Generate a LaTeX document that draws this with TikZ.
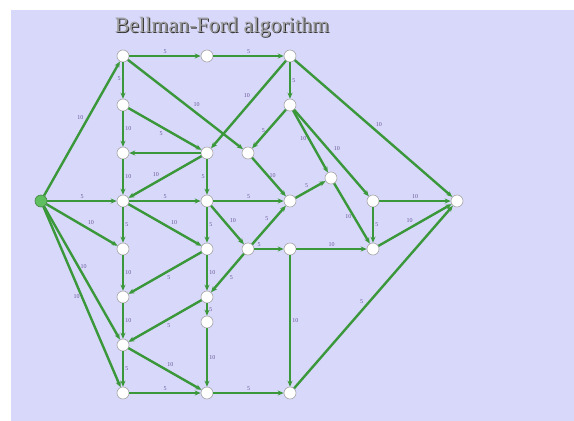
\documentclass[tikz,border=0pt]{standalone}
\usepackage{fontspec}
\setmainfont{Liberation Serif}
\usetikzlibrary{arrows.meta}
\definecolor{bgc}{RGB}{216,216,251}
\definecolor{edgc}{RGB}{58,152,58}
\definecolor{lblc}{RGB}{105,90,150}
\definecolor{srcc}{RGB}{95,190,95}
\tikzset{
  vtx/.style={circle,draw=black!35,fill=white,line width=0.6pt,minimum size=12pt,inner sep=0pt},
  src/.style={vtx,fill=srcc,draw=srcc!70!black},
  edg/.style={draw=edgc,line width=2.4pt,-{Stealth[length=6pt,width=5pt]}},
  lbl/.style={font=\fontsize{6}{7}\selectfont,text=lblc,inner sep=1.2pt},
  ttl/.style={font=\fontsize{22}{24}\selectfont}
}
\begin{document}
\begin{tikzpicture}[x=1pt,y=-1pt]
\useasboundingbox (0,0) rectangle (574,421);
\fill[white] (0,0) rectangle (574,421);
\fill[bgc] (11,10) rectangle (574,421);
% title
\node[ttl,text=black!80] (titleshadow) at (223,27.8) {Bellman-Ford algorithm};
\node[ttl,text=black!38] (title) at (222,27) {Bellman-Ford algorithm};
% vertices
\node[src] (S) at (41,201) {};
\node[vtx] (a1) at (123,56) {};
\node[vtx] (a2) at (123,105) {};
\node[vtx] (a3) at (123,153) {};
\node[vtx] (a4) at (123,201) {};
\node[vtx] (a5) at (123,249) {};
\node[vtx] (a6) at (123,297) {};
\node[vtx] (a7) at (123,345) {};
\node[vtx] (a8) at (123,393) {};
\node[vtx] (b1) at (207,56) {};
\node[vtx] (b3) at (207,153) {};
\node[vtx] (b4) at (207,201) {};
\node[vtx] (b5) at (207,249) {};
\node[vtx] (b6) at (207,297) {};
\node[vtx] (b7) at (207,322) {};
\node[vtx] (b8) at (207,393) {};
\node[vtx] (c3) at (248,153) {};
\node[vtx] (c5) at (248,249) {};
\node[vtx] (d1) at (290,56) {};
\node[vtx] (d2) at (290,105) {};
\node[vtx] (d4) at (290,201) {};
\node[vtx] (d5) at (290,249) {};
\node[vtx] (d8) at (290,393) {};
\node[vtx] (e) at (331,178) {};
\node[vtx] (f4) at (373,201) {};
\node[vtx] (f5) at (373,249) {};
\node[vtx] (T) at (457,201) {};
% edges
\draw[edg] (S) -- node[lbl,above left,pos=.55] {10} (a1);
\draw[edg] (S) -- node[lbl,above] {5} (a4);
\draw[edg] (S) -- node[lbl,above right,pos=.55] {10} (a5);
\draw[edg] (S) -- node[lbl,right,pos=.45] {10} (a7);
\draw[edg] (S) -- node[lbl,left,pos=.5] {10} (a8);
\draw[edg] (a1) -- node[lbl,above] {5} (b1);
\draw[edg] (b1) -- node[lbl,above] {5} (d1);
\draw[edg] (a1) -- node[lbl,left,pos=.45] {5} (a2);
\draw[edg] (a1) -- node[lbl,above right,pos=.55] {10} (c3);
\draw[edg] (d1) -- node[lbl,above left,pos=.45] {10} (b3);
\draw[edg] (d1) -- node[lbl,right] {5} (d2);
\draw[edg] (d1) -- node[lbl,above right] {10} (T);
\draw[edg] (d2) -- node[lbl,left,pos=.55] {5} (c3);
\draw[edg] (c3) -- node[lbl,right,pos=.45] {10} (d4);
\draw[edg] (d2) -- node[lbl,left,pos=.45] {10} (e);
\draw[edg] (d2) -- node[lbl,above right,pos=.5] {10} (f4);
\draw[edg] (d4) -- node[lbl,above left] {5} (e);
\draw[edg] (e) -- node[lbl,left,pos=.55] {10} (f5);
\draw[edg] (f4) -- node[lbl,above] {10} (T);
\draw[edg] (f4) -- node[lbl,right] {5} (f5);
\draw[edg] (f5) -- node[lbl,above left,pos=.5] {10} (T);
\draw[edg] (d5) -- node[lbl,above,pos=.5] {10} (f5);
\draw[edg] (d8) -- node[lbl,above left,pos=.45] {5} (T);
\draw[edg] (a2) -- node[lbl,below left,pos=.5] {5} (b3);
\draw[edg] (a2) -- node[lbl,right] {10} (a3);
\draw[edg] (b3) -- (a3);
\draw[edg] (b3) -- node[lbl,above left,pos=.55] {10} (a4);
\draw[edg] (a3) -- node[lbl,right] {10} (a4);
\draw[edg] (a4) -- node[lbl,above] {5} (b4);
\draw[edg] (b3) -- node[lbl,left] {5} (b4);
\draw[edg] (b4) -- node[lbl,above] {5} (d4);
\draw[edg] (a4) -- node[lbl,right] {5} (a5);
\draw[edg] (a4) -- node[lbl,above right,pos=.55] {10} (b5);
\draw[edg] (b4) -- node[lbl,right] {5} (b5);
\draw[edg] (b4) -- node[lbl,above right,pos=.5] {10} (c5);
\draw[edg] (c5) -- node[lbl,above left,pos=.55] {5} (d4);
\draw[edg] (c5) -- node[lbl,above left,pos=.3] {5} (d5);
\draw[edg] (c5) -- node[lbl,below right,pos=.5] {5} (b6);
\draw[edg] (b5) -- node[lbl,right] {10} (b6);
\draw[edg] (b5) -- node[lbl,below right,pos=.5] {5} (a6);
\draw[edg] (a5) -- node[lbl,right] {10} (a6);
\draw[edg] (a6) -- node[lbl,right] {10} (a7);
\draw[edg] (b6) -- node[lbl,below right,pos=.5] {5} (a7);
\draw[edg] (b6) -- node[lbl,right] {5} (b7);
\draw[edg] (b7) -- node[lbl,right] {10} (b8);
\draw[edg] (a7) -- node[lbl,above right,pos=.5] {10} (b8);
\draw[edg] (a7) -- node[lbl,right] {5} (a8);
\draw[edg] (a8) -- node[lbl,above] {5} (b8);
\draw[edg] (b8) -- node[lbl,above] {5} (d8);
\draw[edg] (d5) -- node[lbl,right] {10} (d8);
\end{tikzpicture}
\end{document}
